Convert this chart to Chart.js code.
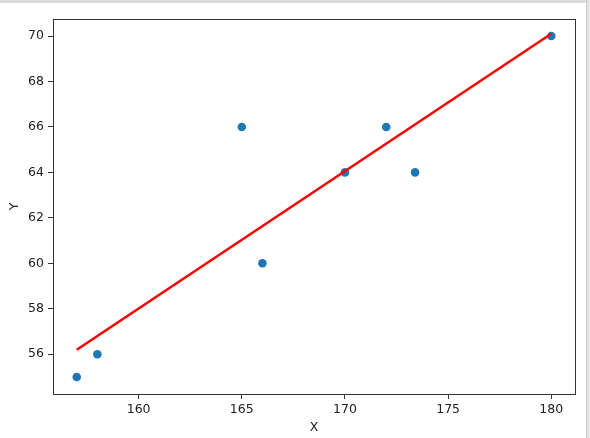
<!DOCTYPE html>
<html>
<head>
<meta charset="utf-8">
<script src="https://cdn.jsdelivr.net/npm/chart.js@4"></script>
<style>
  html, body { margin: 0; padding: 0; background: #fff; }
  body { width: 590px; height: 438px; overflow: hidden; position: relative; }
  #wrap { position: absolute; left: 0; top: 0; width: 590px; height: 438px; }
  .edgeTop { position: absolute; left: 0; top: 0; width: 590px; height: 3px; background: #dcdcdc; }
  .edgeRight { position: absolute; right: 0; top: 0; width: 3px; height: 438px; background: #e4e4e4; border-left: 1px solid #c8c8c8; }
</style>
</head>
<body>
<div id="wrap"><canvas id="chart" width="590" height="438"></canvas></div>
<div class="edgeTop"></div>
<div class="edgeRight"></div>
<script>
// scatter data
const xs = [157, 158, 165, 166, 170, 172, 173.4, 180];
const ys = [55, 56, 66, 60, 64, 66, 64, 70];
// fitted line endpoints
const lineX = [157, 180];
const lineY = [56.2, 70.1];
// tick labels
const xTicks = [160, 165, 170, 175, 180];
const yTicks = [56, 58, 60, 62, 64, 66, 68, 70];

const fontSpec = { family: 'DejaVu Sans', size: 12.5 };

const frame = {
  id: 'frame',
  afterDraw(chart) {
    const { ctx, chartArea: a } = chart;
    ctx.save();
    ctx.strokeStyle = '#333';
    ctx.lineWidth = 1;
    ctx.strokeRect(Math.round(a.left) + 0.5, Math.round(a.top) + 0.5,
      Math.round(a.right - a.left), Math.round(a.bottom - a.top));
    ctx.restore();
  }
};

new Chart(document.getElementById('chart'), {
  type: 'scatter',
  data: {
    datasets: [
      {
        type: 'line',
        data: lineX.map((x, i) => ({ x, y: lineY[i] })),
        borderColor: '#ff0000',
        borderWidth: 2.5,
        pointRadius: 0,
        fill: false,
        order: 0
      },
      {
        data: xs.map((x, i) => ({ x, y: ys[i] })),
        backgroundColor: '#1f77b4',
        borderWidth: 0,
        pointRadius: 4.3,
        order: 1
      }
    ]
  },
  options: {
    responsive: false,
    animation: false,
    layout: { padding: { top: 19, right: 15, left: 0, bottom: 0 } },
    plugins: { legend: { display: false }, tooltip: { enabled: false } },
    scales: {
      x: {
        type: 'linear',
        min: 155.85,
        max: 181.15,
        afterBuildTicks: s => { s.ticks = xTicks.map(v => ({ value: v })); },
        afterFit: s => { s.height = 44; },
        grid: { display: true, drawOnChartArea: false, tickLength: 5, color: '#333' },
        border: { display: true, color: '#333' },
        ticks: { color: '#222', font: fontSpec, padding: 3, maxRotation: 0 },
        title: { display: true, text: 'X', color: '#222', font: fontSpec, padding: { top: 2, bottom: 3 } }
      },
      y: {
        type: 'linear',
        min: 54.25,
        max: 70.75,
        afterBuildTicks: s => { s.ticks = yTicks.map(v => ({ value: v })); },
        afterFit: s => { s.width = 53; },
        grid: { display: true, drawOnChartArea: false, tickLength: 5, color: '#333' },
        border: { display: true, color: '#333' },
        ticks: { color: '#222', font: fontSpec, padding: 4 },
        title: { display: true, text: 'Y', color: '#222', font: fontSpec, padding: { top: 7, bottom: 4 } }
      }
    }
  },
  plugins: [frame]
});
</script>
</body>
</html>
